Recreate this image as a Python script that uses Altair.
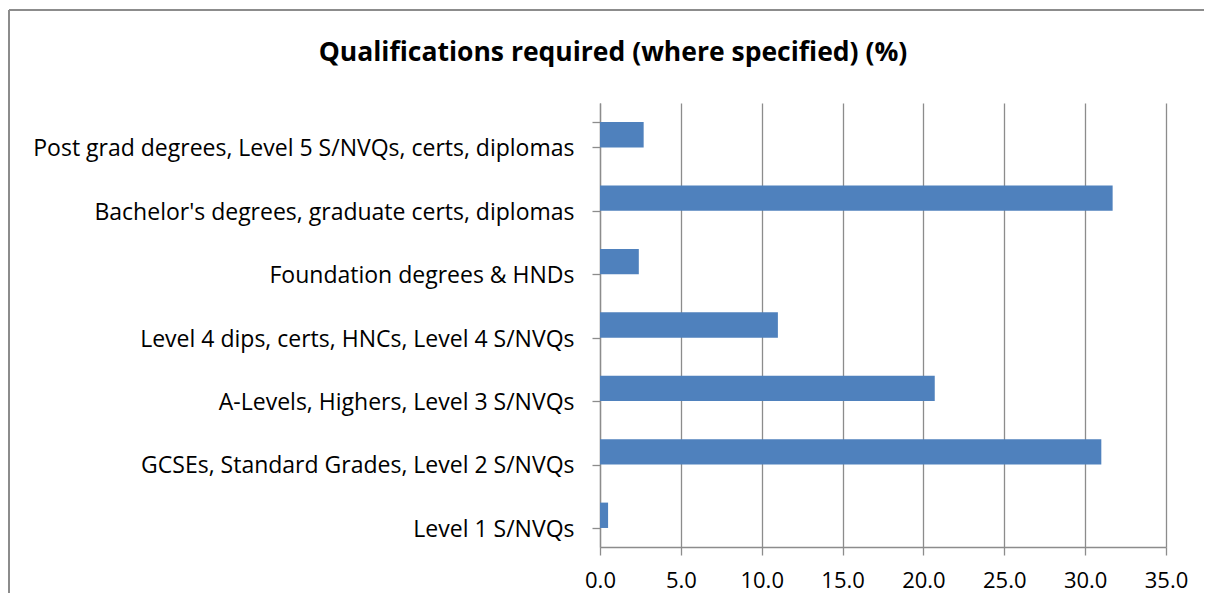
import altair as alt
import pandas as pd

categories = [
    "Post grad degrees, Level 5 S/NVQs, certs, diplomas",
    "Bachelor's degrees, graduate certs, diplomas",
    "Foundation degrees & HNDs",
    "Level 4 dips, certs, HNCs, Level 4 S/NVQs",
    "A-Levels, Highers, Level 3 S/NVQs",
    "GCSEs, Standard Grades, Level 2 S/NVQs",
    "Level 1 S/NVQs",
]
values = [2.7, 31.7, 2.4, 11.0, 20.7, 31.0, 0.5]
x_ticks = [0, 5, 10, 15, 20, 25, 30, 35]
title_text = "Qualifications required (where specified) (%)"

df = pd.DataFrame({"qual": categories, "pct": values})

FONT = "Open Sans"
GRID = "#8c8c8c"

W, H = 566, 444
PAD = {"left": 592, "top": 95, "right": 38, "bottom": 46}

bars = alt.Chart(df).mark_bar(color="#4F81BD").encode(
    x=alt.X(
        "pct:Q",
        scale=alt.Scale(domain=[0, 35], nice=False),
        axis=alt.Axis(
            values=x_ticks,
            format=".1f",
            title=None,
            grid=True,
            gridColor=GRID,
            gridWidth=1.3,
            domainColor=GRID,
            domainWidth=1.3,
            tickColor=GRID,
            tickWidth=1.3,
            tickSize=8,
            labelFont=FONT,
            labelFontSize=22,
            labelColor="#000000",
            labelPadding=15,
            labelFlush=False,
        ),
    ),
    y=alt.Y(
        "qual:N",
        sort=categories,
        scale=alt.Scale(paddingInner=0.6, paddingOuter=0.3),
        axis=alt.Axis(
            title=None,
            grid=False,
            tickBand="extent",
            domainColor=GRID,
            domainWidth=1.3,
            tickColor=GRID,
            tickWidth=1.3,
            tickSize=8,
            labelFont=FONT,
            labelFontSize=23,
            labelColor="#000000",
            labelPadding=18,
            labelOffset=14,
            labelLimit=700,
        ),
    ),
)

one = pd.DataFrame({"a": [0]})

frame_top = alt.Chart(one).mark_rule(color="#8c8c8c", strokeWidth=2).encode(
    x=alt.value(-591),
    x2=alt.value(W + 80),
    y=alt.value(-93),
)
frame_left = alt.Chart(one).mark_rule(color="#8c8c8c", strokeWidth=2).encode(
    x=alt.value(-591),
    y=alt.value(-93),
    y2=alt.value(H + 48),
)

title = alt.Chart(pd.DataFrame({"t": [title_text]})).mark_text(
    font=FONT,
    fontSize=26.5,
    fontWeight="bold",
    color="#000000",
    align="center",
    baseline="alphabetic",
).encode(
    text="t:N",
    x=alt.value(13),
    y=alt.value(-42),
)

chart = alt.layer(frame_top, frame_left, title, bars).properties(
    width=W,
    height=H,
    padding=PAD,
    autosize=alt.AutoSizeParams(type="none"),
).configure_view(stroke=None)

chart.save("out.html", embed_options={"renderer": "svg", "actions": False})
